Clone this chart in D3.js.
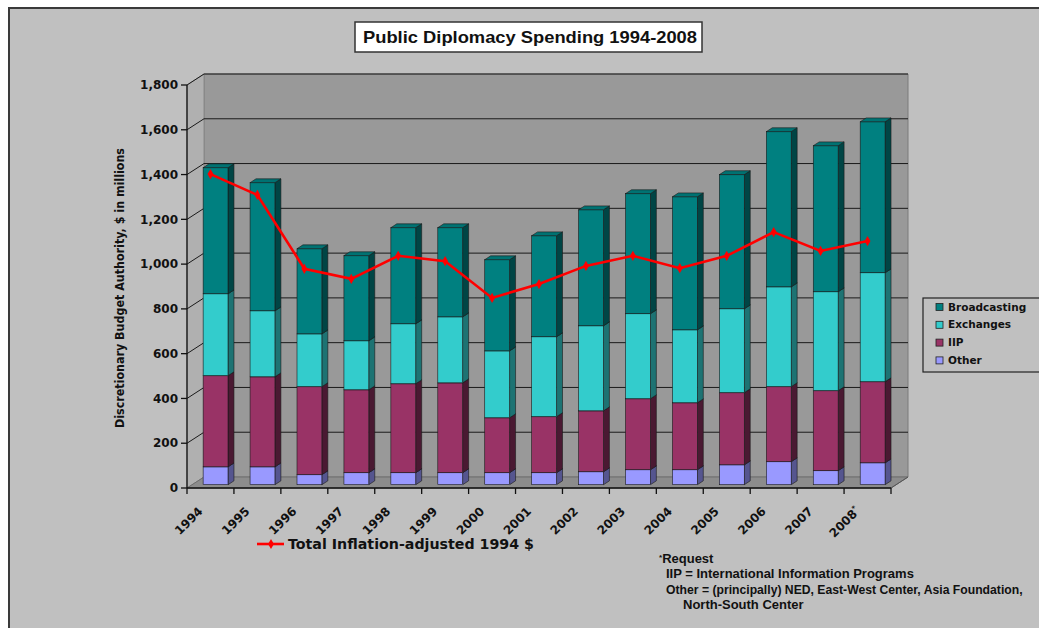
<!DOCTYPE html>
<html>
<head>
<meta charset="utf-8">
<script src="https://cdn.jsdelivr.net/npm/d3@7"></script>
<style>
  html, body { margin: 0; padding: 0; background: #fff; }
  svg { display: block; font-family: "Liberation Sans", Arial, sans-serif; }
  .heavy { font-family: "DejaVu Sans", "Liberation Sans", sans-serif; font-weight: bold; }
</style>
</head>
<body>
<svg id="chart" width="1039" height="628"></svg>
<script>
// values ($ millions)
const years = ["1994", "1995", "1996", "1997", "1998", "1999", "2000", "2001",
               "2002", "2003", "2004", "2005", "2006", "2007", "2008"];
const other        = [80, 80, 45, 54, 54, 54, 54, 54, 58, 67, 67, 89, 103, 63, 98];
const iip          = [407, 402, 393, 370, 397, 401, 245, 250, 272, 317, 299, 322, 335, 357, 362];
const exchanges    = [366, 295, 236, 219, 268, 295, 299, 357, 380, 380, 326, 375, 446, 442, 487];
const broadcasting = [563, 572, 380, 380, 429, 398, 407, 451, 518, 536, 594, 599, 693, 652, 674];
const inflationAdj = [1402, 1309, 979, 934, 1037, 1013, 849, 911, 992, 1037, 982, 1037, 1143, 1059, 1103];
const yTicks = [0, 200, 400, 600, 800, 1000, 1200, 1400, 1600, 1800];

const seriesNames = ["Other", "IIP", "Exchanges", "Broadcasting"];
const seriesData = [other, iip, exchanges, broadcasting];
const colors = {
    Broadcasting: { front: "#008080", side: "#004545", top: "#007272" },
    Exchanges:    { front: "#33cccc", side: "#1d7373", top: "#2db3b3" },
    IIP:          { front: "#993366", side: "#4a1932", top: "#86305a" },
    Other:        { front: "#9999ff", side: "#55558f", top: "#8a8ae6" }
};

const svg = d3.select("#chart");

// 3d box geometry
const depthX = 17, depthY = -11;       // front plane -> back wall
const barF = 0.3, barSide = 0.35;      // bar depth position / thickness

const x = d3.scaleBand().domain(years).range([187, 891]).paddingInner(0.47).paddingOuter(0.235);
const y = d3.scaleLinear().domain([0, 1800]).range([488, 85]);

// panel
svg.append("rect").attr("x", 0).attr("y", 0).attr("width", 1039).attr("height", 628).attr("fill", "#fff");
svg.append("rect")
    .attr("x", 9).attr("y", 8).attr("width", 1040).attr("height", 630)
    .attr("fill", "#c0c0c0").attr("stroke", "#3a3a3a").attr("stroke-width", 2);

const x0 = x.range()[0], x1 = x.range()[1];
const y0 = y(0), yTop = y(1800);

// walls
const walls = svg.append("g");
walls.append("polygon") // back wall
    .attr("points", [[x0 + depthX, yTop + depthY], [x1 + depthX, yTop + depthY],
                     [x1 + depthX, y0 + depthY], [x0 + depthX, y0 + depthY]].join(" "))
    .attr("fill", "#999999").attr("stroke", "#7a7a7a");
walls.append("polygon") // side wall
    .attr("points", [[x0, yTop], [x0 + depthX, yTop + depthY],
                     [x0 + depthX, y0 + depthY], [x0, y0]].join(" "))
    .attr("fill", "#b0b0b0").attr("stroke", "#8a8a8a");
walls.append("polygon") // floor
    .attr("points", [[x0, y0], [x1, y0], [x1 + depthX, y0 + depthY], [x0 + depthX, y0 + depthY]].join(" "))
    .attr("fill", "#8c8c8c").attr("stroke", "#6e6e6e");

// gridlines
yTicks.filter(d => d > 0).forEach(v => {
    walls.append("path")
        .attr("d", `M${x0},${y(v)}L${x0 + depthX},${y(v) + depthY}L${x1 + depthX},${y(v) + depthY}`)
        .attr("fill", "none").attr("stroke", "#1a1a1a").attr("stroke-width", 1);
});

// bars
const bx = d => x(d) + depthX * barF;
const by = v => y(v) + depthY * barF;
const sdx = depthX * barSide, sdy = depthY * barSide;
const bw = x.bandwidth();

const bars = svg.append("g");
years.forEach((yr, i) => {
    let cum = 0;
    const g = bars.append("g");
    seriesData.forEach((vals, s) => {
        const name = seriesNames[s];
        const c = colors[name];
        const lo = cum, hi = cum + vals[i];
        cum = hi;
        const xl = bx(yr), yt = by(hi), yb = by(lo);
        g.append("polygon")
            .attr("points", [[xl + bw, yt], [xl + bw + sdx, yt + sdy], [xl + bw + sdx, yb + sdy], [xl + bw, yb]].join(" "))
            .attr("fill", c.side).attr("stroke", "#1a1a1a").attr("stroke-width", 0.6);
        g.append("rect")
            .attr("x", xl).attr("y", yt).attr("width", bw).attr("height", yb - yt)
            .attr("fill", c.front).attr("stroke", "#1a1a1a").attr("stroke-width", 0.6);
        g.append("polygon")
            .attr("points", [[xl, yt], [xl + sdx, yt + sdy], [xl + bw + sdx, yt + sdy], [xl + bw, yt]].join(" "))
            .attr("fill", c.top).attr("stroke", "#1a1a1a").attr("stroke-width", 0.6);
    });
});

// axes
const axisG = svg.append("g").attr("class", "heavy").attr("fill", "#111");
axisG.append("line").attr("x1", x0).attr("x2", x0).attr("y1", yTop).attr("y2", y0)
    .attr("stroke", "#111").attr("stroke-width", 1.3);
axisG.append("line").attr("x1", x0).attr("x2", x1).attr("y1", y0).attr("y2", y0)
    .attr("stroke", "#111").attr("stroke-width", 1.3);
axisG.append("line").attr("x1", x1).attr("x2", x1 + depthX).attr("y1", y0).attr("y2", y0 + depthY)
    .attr("stroke", "#555").attr("stroke-width", 1);

const fmt = d3.format(",");
yTicks.forEach(v => {
    axisG.append("line").attr("x1", x0 - 6).attr("x2", x0).attr("y1", y(v)).attr("y2", y(v))
        .attr("stroke", "#111").attr("stroke-width", 1.3);
    axisG.append("text").attr("x", x0 - 9).attr("y", y(v)).attr("dy", "0.35em")
        .attr("text-anchor", "end").attr("font-size", 12).text(fmt(v));
});

const step = x.step();
d3.range(years.length + 1).forEach(i => {
    const tx = x0 + i * step;
    axisG.append("line").attr("x1", tx).attr("x2", tx).attr("y1", y0).attr("y2", y0 + 6)
        .attr("stroke", "#111").attr("stroke-width", 1.3);
});
years.forEach((yr, i) => {
    const cx = x(yr) + bw / 2;
    const t = axisG.append("text")
        .attr("transform", `translate(${cx - 7},${y0 + 24}) rotate(-45)`)
        .attr("text-anchor", "end").attr("font-size", 12);
    t.append("tspan").text(yr);
    if (yr === "2008") {
        t.append("tspan").attr("font-size", 7).attr("dy", -5).text("*");
    }
});

svg.append("text")
    .attr("class", "heavy")
    .attr("transform", "translate(124,288) rotate(-90)")
    .attr("text-anchor", "middle").attr("font-size", 12).attr("fill", "#111")
    .attr("textLength", 280).attr("lengthAdjust", "spacingAndGlyphs")
    .text("Discretionary Budget Authority, $ in millions");

// inflation adjusted line
const line = d3.line().x((d, i) => x(years[i]) + bw / 2).y(d => y(d));
svg.append("path").datum(inflationAdj)
    .attr("d", line).attr("fill", "none").attr("stroke", "#ff0000").attr("stroke-width", 2.6);
svg.append("g").selectAll("path").data(inflationAdj).join("path")
    .attr("transform", (d, i) => `translate(${x(years[i]) + bw / 2},${y(d)})`)
    .attr("d", d3.symbol(d3.symbolDiamond, 30))
    .attr("fill", "#ff0000");

// title
svg.append("rect").attr("x", 355).attr("y", 22).attr("width", 347).attr("height", 30)
    .attr("fill", "#fff").attr("stroke", "#333").attr("stroke-width", 1.5);
svg.append("text").attr("x", 530).attr("y", 43).attr("text-anchor", "middle")
    .attr("font-size", 17).attr("fill", "#111").attr("font-weight", 600)
    .attr("textLength", 334).attr("lengthAdjust", "spacingAndGlyphs")
    .text("Public Diplomacy Spending 1994-2008");

// legend
const legend = svg.append("g").attr("class", "heavy").attr("font-size", 10.5).attr("fill", "#111");
legend.append("rect").attr("x", 923).attr("y", 298).attr("width", 120).attr("height", 74)
    .attr("fill", "#c0c0c0").attr("stroke", "#222").attr("stroke-width", 1.2);
["Broadcasting", "Exchanges", "IIP", "Other"].forEach((name, i) => {
    const ly = 307 + i * 17.8;
    legend.append("rect").attr("x", 936).attr("y", ly - 3.5).attr("width", 7).attr("height", 7)
        .attr("fill", colors[name].front).attr("stroke", "#222").attr("stroke-width", 0.8);
    legend.append("text").attr("x", 948).attr("y", ly).attr("dy", "0.35em").text(name);
});

// line legend
svg.append("line").attr("x1", 257).attr("x2", 284).attr("y1", 544).attr("y2", 544)
    .attr("stroke", "#ff0000").attr("stroke-width", 2.6);
svg.append("path").attr("transform", "translate(271,544)").attr("d", d3.symbol(d3.symbolDiamond, 30)).attr("fill", "#ff0000");
svg.append("text").attr("class", "heavy").attr("x", 288).attr("y", 549).attr("font-size", 14)
    .attr("fill", "#111").attr("textLength", 246).attr("lengthAdjust", "spacingAndGlyphs")
    .text("Total Inflation-adjusted 1994 $");

// notes
const notes = svg.append("g").attr("font-weight", "bold").attr("font-size", 13).attr("fill", "#111");
const req = notes.append("text").attr("x", 659).attr("y", 563);
req.append("tspan").attr("font-size", 8).attr("dy", -3).text("*");
req.append("tspan").attr("dy", 3).text("Request");
notes.append("text").attr("x", 666).attr("y", 578).text("IIP = International Information Programs");
notes.append("text").attr("x", 666).attr("y", 594).attr("font-size", 12.2)
    .text("Other = (principally) NED, East-West Center, Asia Foundation,");
notes.append("text").attr("x", 683).attr("y", 609).text("North-South Center");
</script>
</body>
</html>
